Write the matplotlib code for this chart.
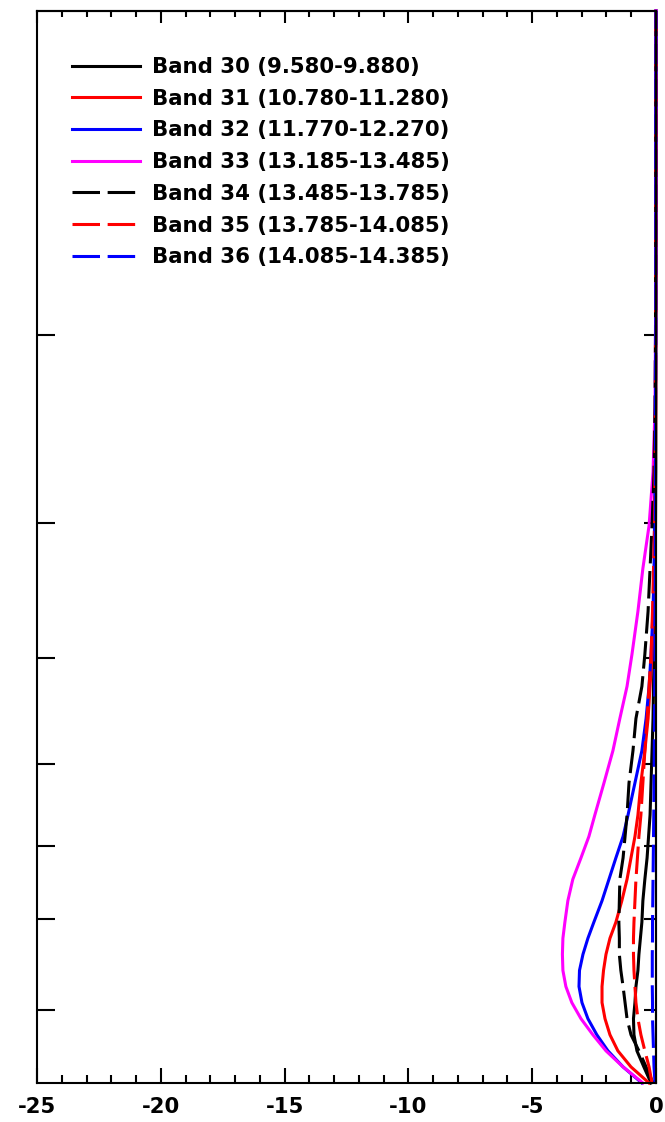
import matplotlib
matplotlib.use("Agg")
import matplotlib.pyplot as plt
from matplotlib.ticker import MultipleLocator, FixedLocator, NullFormatter

# vertical coordinate (relative height, bottom=0, top=100)
level = [0, 1.5, 3, 4.5, 6, 7.5, 9, 10.5, 12, 13.5, 15, 17, 19, 21, 23, 25,
         28, 31, 34, 37, 40, 44, 48, 52, 57, 63, 70, 80, 90, 100]

band30 = [-0.20, -0.49, -0.77, -0.89, -0.91, -0.85, -0.81, -0.73, -0.69, -0.63,
          -0.57, -0.53, -0.45, -0.36, -0.30, -0.24, -0.20, -0.16, -0.12, -0.10,
          -0.08, -0.06, -0.04, -0.02, -0.01, -0.01, -0.01, 0.0, 0.0, 0.0]
band31 = [-0.28, -1.01, -1.54, -1.86, -2.06, -2.18, -2.18, -2.12, -2.02, -1.86,
          -1.62, -1.38, -1.17, -1.01, -0.85, -0.73, -0.61, -0.45, -0.32, -0.24,
          -0.16, -0.10, -0.06, -0.04, -0.02, -0.01, -0.01, 0.0, 0.0, 0.0]
band32 = [-0.57, -1.33, -1.94, -2.39, -2.75, -2.99, -3.11, -3.09, -2.95, -2.75,
          -2.51, -2.18, -1.90, -1.62, -1.33, -1.13, -0.85, -0.57, -0.40, -0.28,
          -0.20, -0.12, -0.08, -0.06, -0.04, -0.02, -0.01, -0.01, 0.0, 0.0]
band33 = [-0.53, -1.33, -2.02, -2.55, -3.03, -3.40, -3.64, -3.76, -3.78, -3.76,
          -3.68, -3.56, -3.36, -3.03, -2.71, -2.47, -2.10, -1.74, -1.46, -1.17,
          -0.97, -0.73, -0.53, -0.28, -0.12, -0.04, -0.02, -0.01, -0.01, 0.0]
band34 = [-0.12, -0.40, -0.69, -1.01, -1.17, -1.25, -1.33, -1.42, -1.48, -1.48,
          -1.50, -1.48, -1.46, -1.33, -1.25, -1.17, -1.09, -0.93, -0.81, -0.57,
          -0.45, -0.32, -0.24, -0.16, -0.08, -0.04, -0.02, -0.01, -0.01, 0.0]
band35 = [-0.16, -0.28, -0.45, -0.61, -0.73, -0.81, -0.85, -0.89, -0.91, -0.91,
          -0.89, -0.85, -0.81, -0.75, -0.69, -0.61, -0.53, -0.45, -0.36, -0.28,
          -0.20, -0.14, -0.10, -0.06, -0.04, -0.02, -0.01, -0.01, 0.0, 0.0]
band36 = [-0.04, -0.08, -0.10, -0.12, -0.14, -0.14, -0.15, -0.15, -0.15, -0.14,
          -0.14, -0.13, -0.12, -0.11, -0.10, -0.09, -0.08, -0.07, -0.06, -0.05,
          -0.04, -0.04, -0.03, -0.03, -0.02, -0.02, -0.01, -0.01, -0.01, 0.0]

labels = ["Band 30 (9.580-9.880)", "Band 31 (10.780-11.280)",
          "Band 32 (11.770-12.270)", "Band 33 (13.185-13.485)",
          "Band 34 (13.485-13.785)", "Band 35 (13.785-14.085)",
          "Band 36 (14.085-14.385)"]
series = [band30, band31, band32, band33, band34, band35, band36]
colors = ["black", "#ff0000", "#0000ff", "#ff00ff", "black", "#ff0000", "#0000ff"]
dashed = [False, False, False, False, True, True, True]

ytick_levels = [6.8, 15.3, 22.1, 29.8, 39.6, 52.2, 69.8]

plt.rcParams['font.family'] = ['DejaVu Sans']
plt.rcParams['font.weight'] = 'bold'
plt.rcParams['axes.unicode_minus'] = False

FS = 15.3

fig = plt.figure(figsize=(6.65, 11.22), dpi=100)
ax = fig.add_axes([37/665, 39/1122, 619/665, 1072/1122])

for vals, lab, c, d in zip(series, labels, colors, dashed):
    line, = ax.plot(vals, level, color=c, lw=2.2, label=lab, clip_on=False)
    if d:
        line.set_dashes((9, 2.5))

ax.set_xlim(-25, 0)
ax.set_ylim(0, 100)
ax.xaxis.set_major_locator(MultipleLocator(5))
ax.xaxis.set_minor_locator(MultipleLocator(1))
ax.yaxis.set_major_locator(FixedLocator(ytick_levels))
ax.yaxis.set_major_formatter(NullFormatter())

ax.tick_params(axis='x', which='major', direction='in', length=11, width=1.5,
               labelsize=FS, pad=10, top=False)
ax.tick_params(axis='x', which='minor', direction='in', length=5.5, width=1.5,
               top=False)
ax.tick_params(axis='y', which='major', direction='in', length=13, width=1.5,
               right=False)

top = ax.secondary_xaxis('top')
top.xaxis.set_major_locator(MultipleLocator(5))
top.xaxis.set_minor_locator(MultipleLocator(1))
top.tick_params(which='major', direction='in', length=8.5, width=1.5, labeltop=False)
top.tick_params(which='minor', direction='in', length=4, width=1.5)
top.spines['top'].set_linewidth(1.5)

right = ax.secondary_yaxis('right')
right.yaxis.set_major_locator(FixedLocator(ytick_levels))
right.tick_params(which='major', direction='in', length=8.5, width=1.5, labelright=False)
right.spines['right'].set_linewidth(1.5)

for lbl in ax.get_xticklabels():
    lbl.set_fontweight('bold')

for s in ax.spines.values():
    s.set_linewidth(1.5)

leg = ax.legend(loc='upper left', bbox_to_anchor=(0.056, 0.957), frameon=False,
                prop={'size': FS, 'weight': 'bold'}, handlelength=3.2,
                handletextpad=0.56, labelspacing=0.55, borderpad=0,
                borderaxespad=0)

fig.savefig("out.png", dpi=100)
